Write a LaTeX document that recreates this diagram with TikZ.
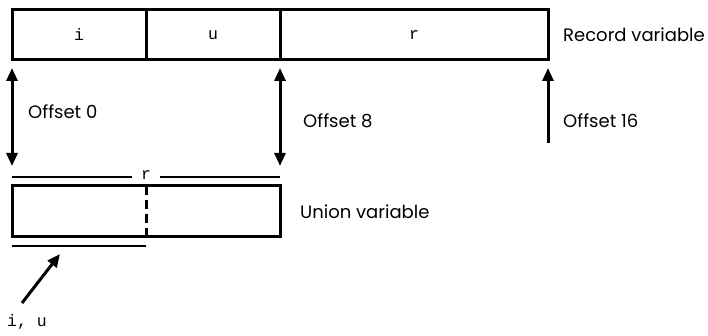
\documentclass[tikz,border=0pt]{standalone}
\usepackage{fontspec}
\setsansfont{Poppins}
\setmonofont{Liberation Mono}
\usetikzlibrary{arrows.meta}
\begin{document}
\begin{tikzpicture}[x=1pt,y=-1pt,
  box/.style={draw,line width=3pt},
  lbl/.style={font=\sffamily\fontsize{18}{21}\selectfont,anchor=west,inner sep=0pt},
  code/.style={font=\ttfamily\fontsize{16.5}{19}\selectfont,inner sep=0pt},
  arr/.style={line width=3pt,-{Triangle[length=13pt,width=11pt]}},
  darr/.style={line width=3pt,{Triangle[length=13pt,width=11pt]}-{Triangle[length=13pt,width=11pt]}}]
\useasboundingbox (0,0) rectangle (708,336);
% record variable
\draw[box] (12,10) rectangle (548,60);
\draw[box] (146,10) -- (146,60);
\draw[box] (280,10) -- (280,60);
\node[code] (ri) at (79,35) {i};
\node[code] (ru) at (213,35) {u};
\node[code] (rr) at (414,35) {r};
\node[lbl] (rec) at (563,35) {Record variable};
% offsets
\coordinate (a0t) at (12,68);
\coordinate (a0b) at (12,166);
\coordinate (a8t) at (280,68);
\coordinate (a8b) at (280,166);
\coordinate (a16t) at (548,68);
\coordinate (a16b) at (548,143);
\draw[darr] (a0b) -- (a0t);
\draw[darr] (a8b) -- (a8t);
\draw[arr] (a16b) -- (a16t);
\node[lbl] (o0) at (28,112) {Offset 0};
\node[lbl] (o8) at (303,121) {Offset 8};
\node[lbl] (o16) at (563,121) {Offset 16};
% union variable
\draw[box] (12,186) rectangle (280,237);
\draw[line width=3pt,dash pattern=on 9pt off 5pt] (146,186) -- (146,237);
\node[code] (ur) at (146,175) {r};
\draw[line width=2.4pt] (12,177) -- (132,177);
\draw[line width=2.4pt] (160,177) -- (280,177);
\draw[line width=2.4pt] (12,246) -- (146,246);
\node[lbl] (un) at (300,212) {Union variable};
\node[code,anchor=west] (iu) at (7,322) {i, u};
\coordinate (iut) at (60,254);
\draw[arr] (22,303) -- (iut);
\end{tikzpicture}
\end{document}
